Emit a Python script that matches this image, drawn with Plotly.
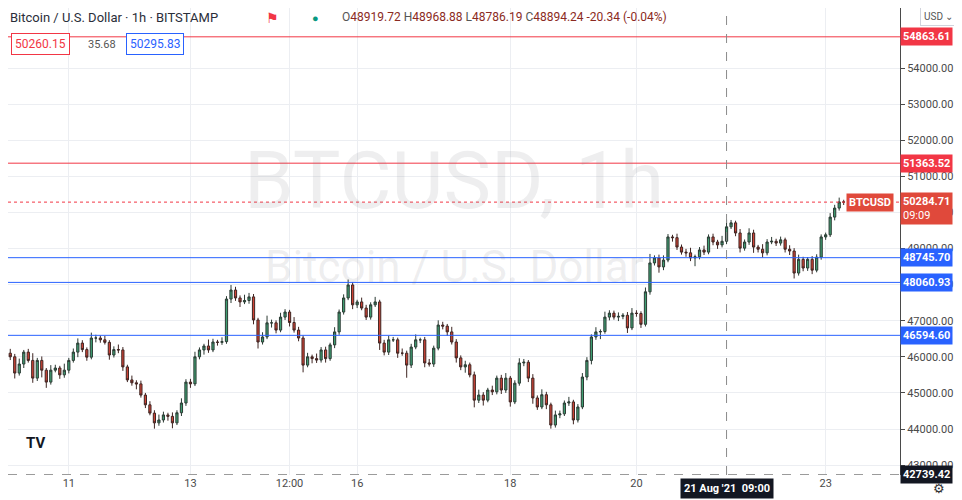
import plotly.graph_objects as go

# hourly closes
closes = [
    46000, 45550, 45800, 46130, 45900, 45410, 45900, 45630, 45300, 45630,
    45690, 45500, 45630, 45900, 46130, 46380, 46200, 45990, 46520, 46520,
    46470, 46400, 46050, 46200, 46190, 45720, 45360, 45280, 45250, 44940,
    44670, 44440, 44170, 44250, 44390, 44350, 44170, 44450, 44720, 45300,
    45250, 46000, 46190, 46300, 46190, 46410, 46400, 46420, 47600, 47850,
    47630, 47520, 47560, 47660, 47020, 46410, 46550, 46940, 46940, 46740,
    47100, 47240, 46950, 46740, 46520, 45770, 46000, 45950, 45910, 46190,
    45950, 46330, 46690, 47240, 47630, 47990, 47440, 47520, 47350, 47100,
    47440, 47520, 46380, 46130, 46470, 46470, 46100, 46100, 45770, 46270,
    46470, 46470, 45830, 45800, 46240, 46880, 46850, 46690, 46410, 45970,
    45720, 45780, 45500, 44800, 44940, 44800, 45080, 45030, 45410, 45080,
    45410, 44750, 45270, 45830, 45850, 45410, 44860, 44610, 44950, 44670,
    44110, 44390, 44420, 44720, 44750, 44250, 44610, 45440, 45900, 46550,
    46690, 46700, 47100, 47210, 47100, 47120, 47150, 46800, 47210, 47200,
    46900, 47800, 48600, 48740, 48490, 48680, 49320, 49300, 49040, 48900,
    48880, 48740, 48770, 48960, 48900, 49320, 49180, 49100, 49200, 49600,
    49710, 49430, 49010, 49180, 49430, 49040, 48980, 48880, 49180, 49200,
    49150, 49240, 48980, 48930, 48320, 48700, 48460, 48700, 48400, 48760,
    49320, 49380, 49870, 50120, 50290, 50284.71,
]
first_open = 46100
wick_up = [
    120, 80, 150, 60, 90, 200, 70, 110, 60, 140,
    90, 60, 180, 70, 100, 130, 80, 60, 150, 90,
    70, 110, 60, 90, 140, 80, 60, 120, 70, 90,
    60, 100, 80, 150, 90, 60, 110, 70, 130, 80,
    90, 140, 70, 60, 180, 90, 60, 120, 80, 140,
    90, 70, 160, 110, 80, 60, 130, 200, 90, 70,
    120, 80, 60, 150, 90, 70, 110, 60, 140, 80,
    90, 60, 130, 70, 100, 150, 80, 60, 120, 90,
    70, 140, 60, 90, 110, 80, 60, 130, 70, 90,
    150, 60, 80, 110, 70, 130, 90, 60, 140, 80,
    70, 110, 60, 90, 150, 80, 60, 120, 70, 90,
    140, 60, 80, 130, 90, 60, 110, 70, 150, 80,
    60, 120, 90, 70, 140, 60, 80, 110, 90, 70,
    130, 60, 150, 80, 70, 110, 60, 90, 140, 80,
    60, 120, 250, 70, 90, 130, 80, 60, 110, 70,
    90, 140, 60, 80, 120, 70, 90, 60, 150, 200,
    80, 60, 110, 70, 130, 90, 60, 140, 80, 120,
    70, 90, 60, 110, 80, 130, 70, 60, 90, 80,
    70, 60, 110, 90, 120, 60,
]
wick_dn = [
    90, 150, 70, 110, 60, 130, 80, 200, 160, 70,
    60, 110, 80, 90, 60, 140, 70, 100, 60, 120,
    80, 60, 130, 70, 90, 110, 60, 80, 150, 70,
    90, 60, 160, 80, 70, 120, 150, 60, 90, 80,
    110, 60, 70, 130, 80, 60, 90, 70, 60, 110,
    80, 140, 60, 90, 120, 180, 70, 60, 130, 90,
    60, 80, 110, 70, 90, 200, 60, 130, 80, 70,
    110, 60, 90, 80, 70, 60, 120, 90, 60, 80,
    70, 60, 190, 90, 80, 60, 130, 70, 350, 80,
    60, 90, 120, 70, 80, 60, 90, 110, 70, 130,
    90, 160, 70, 200, 80, 150, 60, 90, 70, 110,
    80, 130, 60, 70, 90, 110, 160, 80, 60, 120,
    100, 70, 90, 60, 80, 120, 70, 60, 90, 110,
    80, 200, 60, 90, 70, 110, 80, 140, 60, 90,
    100, 60, 80, 70, 160, 90, 60, 110, 80, 70,
    110, 90, 230, 70, 80, 60, 90, 110, 70, 80,
    60, 90, 120, 70, 80, 160, 90, 130, 70, 60,
    80, 70, 90, 110, 150, 70, 90, 80, 110, 60,
    70, 80, 60, 90, 70, 80,
]

# horizontal levels
red_levels = [54863.61, 51363.52]
blue_levels = [48745.70, 48060.93, 46594.60]
last_price = 50284.71
low_mark = 42739.42

tick_pos = [13, 40, 62, 77, 111, 139, 181]
tick_text = ["11", "13", "12:00", "16", "18", "20", "23"]
cross_idx = 159

opens = [first_open] + closes[:-1]
highs = [max(o, c) + w for o, c, w in zip(opens, closes, wick_up)]
lows = [min(o, c) - w for o, c, w in zip(opens, closes, wick_dn)]
idx = list(range(len(closes)))

RED = "#f23645"
BLUE = "#2962ff"
AXIS_GREY = "#4a4a4a"

fig = go.Figure(go.Candlestick(
    x=idx, open=opens, high=highs, low=lows, close=closes,
    increasing=dict(fillcolor="#3f9e72", line=dict(color="#2b3a33", width=1)),
    decreasing=dict(fillcolor="#cf4336", line=dict(color="#3e2522", width=1)),
    whiskerwidth=0, showlegend=False, hoverinfo="skip",
))

shapes = []
for lv in red_levels:
    shapes.append(dict(type="line", xref="paper", x0=0, x1=1, y0=lv, y1=lv,
                       line=dict(color=RED, width=1)))
for lv in blue_levels:
    shapes.append(dict(type="line", xref="paper", x0=0, x1=1, y0=lv, y1=lv,
                       line=dict(color=BLUE, width=1)))
shapes.append(dict(type="line", xref="paper", x0=0, x1=1, y0=last_price, y1=last_price,
                   line=dict(color=RED, width=1, dash="dot")))
shapes.append(dict(type="line", xref="paper", x0=0, x1=1, y0=low_mark, y1=low_mark,
                   line=dict(color="#9a9a9a", width=1, dash="dash")))
shapes.append(dict(type="line", yref="paper", x0=cross_idx, x1=cross_idx, y0=0, y1=1,
                   line=dict(color="#8a8a8a", width=1, dash="dash")))

ann = []
def price_tag(y, text, bg):
    ann.append(dict(xref="paper", x=1.0, y=y, text="<b>%s</b>" % text, showarrow=False,
                    xanchor="left", yanchor="middle", bgcolor=bg, borderpad=2,
                    font=dict(color="white", size=11, family="Roboto")))

for lv in red_levels:
    price_tag(lv, "%.2f" % lv, RED)
for lv in blue_levels:
    price_tag(lv, "%.2f" % lv, BLUE)
ann.append(dict(xref="paper", x=1.0, y=last_price, yshift=-6, text="<b>%.2f</b><br>09:09" % last_price,
                showarrow=False, xanchor="left", yanchor="middle", bgcolor="#e0493b",
                borderpad=2, align="left", font=dict(color="white", size=11, family="Roboto")))
ann.append(dict(xref="paper", x=1.0, xshift=-6, y=last_price, text="<b>BTCUSD</b>", showarrow=False,
                xanchor="right", bgcolor="#e0493b", borderpad=2,
                font=dict(color="white", size=11, family="Roboto")))
ann.append(dict(xref="paper", x=1.0, y=low_mark, text="<b>%.2f</b>" % low_mark, showarrow=False,
                xanchor="left", yanchor="middle", bgcolor="#131722", borderpad=2,
                font=dict(color="white", size=11, family="Roboto")))
# crosshair date label
ann.append(dict(x=cross_idx, yref="paper", y=0, yshift=-13, text="<b>21 Aug '21  09:00</b>", showarrow=False,
                yanchor="middle", bgcolor="#131722", borderpad=3,
                font=dict(color="white", size=11, family="Roboto")))
# watermarks
ann.append(dict(xref="paper", yref="paper", x=0.5, y=0.63, text="BTCUSD, 1h", showarrow=False,
                font=dict(color="rgba(120,123,134,0.13)", size=80, family="Roboto")))
ann.append(dict(xref="paper", yref="paper", x=0.5, y=0.445, text="Bitcoin / U.S. Dollar", showarrow=False,
                font=dict(color="rgba(120,123,134,0.13)", size=44, family="Roboto")))
# header legend
ann.append(dict(xref="paper", yref="paper", x=0.0, y=1, yshift=-9, xanchor="left", yanchor="middle",
                showarrow=False, text="Bitcoin / U.S. Dollar · 1h · BITSTAMP",
                font=dict(color="#2a2e39", size=13, family="Roboto")))
ann.append(dict(xref="paper", yref="paper", x=0.297, y=1, yshift=-9, xanchor="center", yanchor="middle",
                showarrow=False, text="⚑", font=dict(color=RED, size=14)))
ann.append(dict(xref="paper", yref="paper", x=0.345, y=1, yshift=-9, xanchor="center", yanchor="middle",
                showarrow=False, text="●", font=dict(color="#089981", size=11)))
ann.append(dict(xref="paper", yref="paper", x=0.372, y=1, yshift=-9, xanchor="left", yanchor="middle",
                showarrow=False, font=dict(color="#8b2a22", size=12, family="Roboto"),
                text="<span style='color:#555'>O</span>48919.72 <span style='color:#555'>H</span>48968.88 "
                     "<span style='color:#555'>L</span>48786.19 <span style='color:#555'>C</span>48894.24 -20.34 (-0.04%)"))
ann.append(dict(xref="paper", yref="paper", x=0.003, y=1, yshift=-36, xanchor="left", yanchor="middle",
                showarrow=False, text="50260.15", bordercolor=RED, borderwidth=1, borderpad=3,
                bgcolor="white", font=dict(color=RED, size=12, family="Roboto")))
ann.append(dict(xref="paper", yref="paper", x=0.087, y=1, yshift=-36, xanchor="left", yanchor="middle",
                showarrow=False, text="35.68", font=dict(color="#555", size=11, family="Roboto")))
ann.append(dict(xref="paper", yref="paper", x=0.132, y=1, yshift=-36, xanchor="left", yanchor="middle",
                showarrow=False, text="50295.83", bordercolor=BLUE, borderwidth=1, borderpad=3,
                bgcolor="white", font=dict(color=BLUE, size=12, family="Roboto")))
ann.append(dict(xref="paper", yref="paper", x=1.022, y=1, yshift=-8, xanchor="left", yanchor="middle",
                showarrow=False, text="USD ⌄", bordercolor="#d0d3dc", borderwidth=1, borderpad=3,
                bgcolor="white", font=dict(color="#555", size=10, family="Roboto")))
ann.append(dict(xref="paper", yref="paper", x=0.018, y=0.045, showarrow=False,
                text="<b>TV</b>", font=dict(color="#131722", size=15, family="Roboto")))
ann.append(dict(xref="paper", yref="paper", x=1.035, y=0, yshift=-13, xanchor="left", yanchor="middle",
                showarrow=False, text="⚙", font=dict(color="#333", size=13)))

fig.update_layout(
    width=954, height=492,
    margin=dict(l=0, r=62, t=0, b=25),
    paper_bgcolor="white", plot_bgcolor="white",
    shapes=shapes, annotations=ann,
    xaxis=dict(range=[-0.5, 197.5], rangeslider=dict(visible=False),
               tickmode="array", tickvals=tick_pos, ticktext=tick_text,
               showgrid=True, gridcolor="#eceef2", zeroline=False,
               ticks="", tickfont=dict(color=AXIS_GREY, size=11, family="Roboto"),
               showline=False),
    yaxis=dict(side="right", range=[42726, 55662],
               tickmode="array", tickvals=list(range(43000, 55000, 1000)),
               ticktext=["%d.00" % v for v in range(43000, 55000, 1000)],
               showgrid=True, gridcolor="#eceef2", zeroline=False,
               ticks="outside", ticklen=4, tickcolor=AXIS_GREY,
               showline=True, linecolor=AXIS_GREY, linewidth=1,
               tickfont=dict(color=AXIS_GREY, size=11, family="Roboto")),
)

fig.write_html("out.html")
